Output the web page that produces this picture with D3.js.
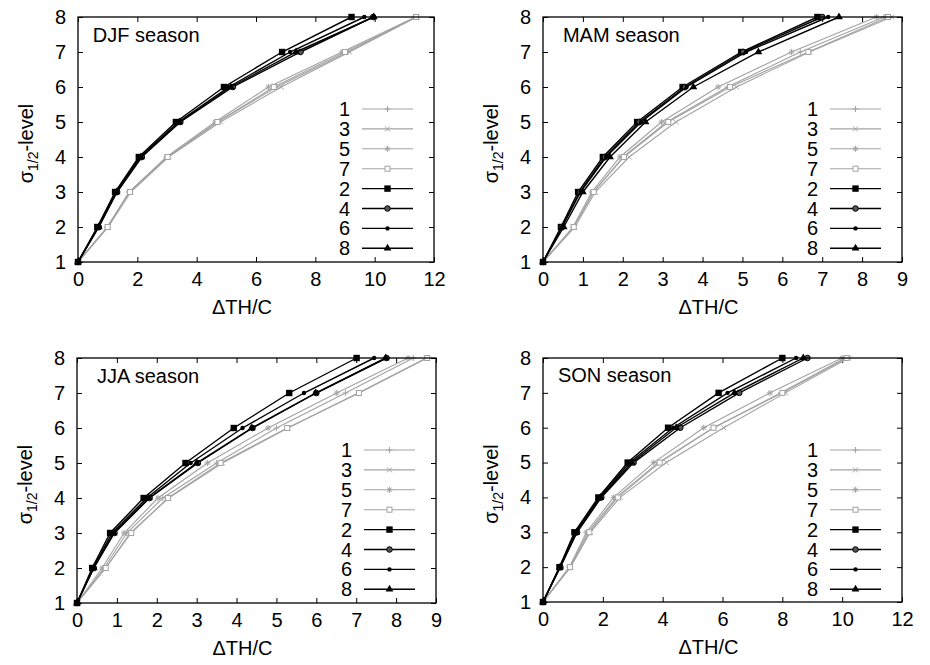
<!DOCTYPE html>
<html>
<head>
<meta charset="utf-8">
<script src="https://cdn.jsdelivr.net/npm/d3@7"></script>
<style>
  body { margin: 0; background: #fff; }
  svg { font-family: "Liberation Sans", Arial, sans-serif; }
</style>
</head>
<body>
<svg id="chart" width="930" height="665"></svg>
<script>
const levels = [1, 2, 3, 4, 5, 6, 7, 8];
const seriesNames = ['1', '3', '5', '7', '2', '4', '6', '8'];
const seasons = ['DJF', 'MAM', 'JJA', 'SON'];
const xMaxes = [12, 9, 9, 12];
const yTicks = [1, 2, 3, 4, 5, 6, 7, 8];

// ΔTH/C at each level, rows follow seriesNames
const djf = [
  [0, 1.0, 1.72, 3.0, 4.7, 6.7, 9.1, 11.4],
  [0, 1.02, 1.78, 3.05, 4.8, 6.85, 9.15, 11.42],
  [0, 0.98, 1.73, 2.98, 4.62, 6.42, 8.9, 11.38],
  [0, 1.0, 1.75, 3.02, 4.7, 6.6, 9.0, 11.4],
  [0, 0.65, 1.25, 2.05, 3.3, 4.92, 6.88, 9.22],
  [0, 0.7, 1.32, 2.15, 3.45, 5.22, 7.5, 9.95],
  [0, 0.68, 1.28, 2.1, 3.38, 5.08, 7.15, 9.65],
  [0, 0.7, 1.3, 2.12, 3.42, 5.15, 7.35, 9.97]
];
const mam = [
  [0, 0.77, 1.26, 2.01, 3.1, 4.62, 6.45, 8.55],
  [0, 0.8, 1.31, 2.16, 3.33, 4.85, 6.68, 8.74],
  [0, 0.75, 1.22, 1.93, 2.97, 4.39, 6.23, 8.36],
  [0, 0.77, 1.27, 2.03, 3.14, 4.69, 6.65, 8.65],
  [0, 0.45, 0.88, 1.5, 2.36, 3.5, 4.97, 6.88],
  [0, 0.47, 0.92, 1.55, 2.42, 3.56, 5.02, 7.0],
  [0, 0.48, 0.94, 1.58, 2.46, 3.6, 5.09, 7.15],
  [0, 0.52, 1.0, 1.68, 2.57, 3.77, 5.4, 7.42]
];
const jja = [
  [0, 0.68, 1.25, 2.15, 3.5, 5.0, 6.73, 8.43],
  [0, 0.72, 1.33, 2.3, 3.65, 5.29, 7.05, 8.76],
  [0, 0.63, 1.18, 2.03, 3.27, 4.79, 6.51, 8.3],
  [0, 0.72, 1.36, 2.28, 3.6, 5.27, 7.07, 8.78],
  [0, 0.38, 0.83, 1.67, 2.72, 3.93, 5.32, 7.01],
  [0, 0.42, 0.94, 1.82, 3.03, 4.4, 6.0, 7.76],
  [0, 0.4, 0.88, 1.75, 2.85, 4.15, 5.69, 7.45],
  [0, 0.42, 0.92, 1.8, 3.0, 4.38, 5.98, 7.74]
];
const son = [
  [0, 0.9, 1.5, 2.45, 3.85, 5.7, 7.95, 10.1],
  [0, 0.92, 1.58, 2.58, 4.12, 6.04, 8.1, 10.22],
  [0, 0.88, 1.45, 2.36, 3.7, 5.37, 7.59, 10.0],
  [0, 0.9, 1.55, 2.5, 3.9, 5.7, 8.0, 10.15],
  [0, 0.55, 1.05, 1.85, 2.83, 4.18, 5.87, 8.0],
  [0, 0.58, 1.14, 1.95, 3.03, 4.59, 6.56, 8.84],
  [0, 0.56, 1.08, 1.88, 2.9, 4.35, 6.17, 8.46],
  [0, 0.57, 1.12, 1.92, 2.97, 4.45, 6.4, 8.7]
];
const seasonData = [djf, mam, jja, son];

const grey = '#a3a3a3';
const fontSize = 20;

const panels = [
  { left: 78, right: 434, top: 17, bottom: 262 },
  { left: 543, right: 902, top: 17, bottom: 262 },
  { left: 77, right: 436, top: 358, bottom: 603 },
  { left: 543, right: 902, top: 358, bottom: 602 }
];

const svg = d3.select('#chart');

function isGrey(name) {
  return ['1', '3', '5', '7'].includes(name);
}

function drawMarker(g, name) {
  const c = isGrey(name) ? grey : '#000';
  if (name === '1') {
    g.append('path').attr('d', 'M-3,0H3M0,-3V3').attr('stroke', c).attr('stroke-width', 1);
  } else if (name === '3') {
    g.append('path').attr('d', 'M-2.5,-2.5L2.5,2.5M-2.5,2.5L2.5,-2.5').attr('stroke', c).attr('stroke-width', 1);
  } else if (name === '5') {
    g.append('path').attr('d', 'M-3,0H3M0,-3V3M-2.2,-2.2L2.2,2.2M-2.2,2.2L2.2,-2.2').attr('stroke', c).attr('stroke-width', 1);
  } else if (name === '7') {
    g.append('rect').attr('x', -2.5).attr('y', -2.5).attr('width', 5).attr('height', 5)
      .attr('fill', '#fff').attr('stroke', c).attr('stroke-width', 1);
  } else if (name === '2') {
    g.append('rect').attr('x', -3.2).attr('y', -3.2).attr('width', 6.4).attr('height', 6.4).attr('fill', c);
  } else if (name === '4') {
    g.append('circle').attr('r', 2.8).attr('fill', '#555').attr('stroke', c).attr('stroke-width', 1);
  } else if (name === '6') {
    g.append('circle').attr('r', 2.2).attr('fill', c);
  } else {
    g.append('path').attr('d', d3.symbol(d3.symbolTriangle, 26)()).attr('fill', c);
  }
}

seasons.forEach((season, i) => {
  const p = panels[i];
  const data = seasonData[i];

  const x = d3.scaleLinear().domain([0, xMaxes[i]]).range([p.left, p.right]);
  const y = d3.scaleLinear().domain([1, 8]).range([p.bottom, p.top]);

  const g = svg.append('g');

  const xTicks = d3.range(0, xMaxes[i] + 1, xMaxes[i] === 12 ? 2 : 1);

  // bottom axis with labels, inward ticks
  const bottom = g.append('g')
    .attr('transform', `translate(0,${p.bottom})`)
    .call(d3.axisBottom(x).tickValues(xTicks).tickSize(-5).tickPadding(10).tickFormat(d3.format('d')));
  const top = g.append('g')
    .attr('transform', `translate(0,${p.top})`)
    .call(d3.axisTop(x).tickValues(xTicks).tickSize(-5).tickFormat(''));
  const left = g.append('g')
    .attr('transform', `translate(${p.left},0)`)
    .call(d3.axisLeft(y).tickValues(yTicks).tickSize(-5).tickPadding(12).tickFormat(d3.format('d')));
  const right = g.append('g')
    .attr('transform', `translate(${p.right},0)`)
    .call(d3.axisRight(y).tickValues(yTicks).tickSize(-5).tickFormat(''));

  [bottom, top, left, right].forEach((a) => {
    a.select('.domain').remove();
    a.selectAll('line').attr('stroke', '#000').attr('stroke-width', 1);
    a.selectAll('text').attr('font-size', fontSize).attr('font-family', null).attr('fill', '#000');
  });

  // series lines, grey ones first
  const line = d3.line().x((d) => x(d[0])).y((d) => y(d[1]));
  seriesNames.forEach((name, k) => {
    const pts = data[k].map((v, j) => [v, levels[j]]);
    g.append('path')
      .attr('d', line(pts))
      .attr('fill', 'none')
      .attr('stroke', isGrey(name) ? grey : '#000')
      .attr('stroke-width', isGrey(name) ? 1.1 : 1.4);
    pts.forEach((pt) => {
      const m = g.append('g').attr('transform', `translate(${x(pt[0])},${y(pt[1])})`);
      drawMarker(m, name);
    });
  });

  // frame
  g.append('rect')
    .attr('x', p.left).attr('y', p.top)
    .attr('width', p.right - p.left).attr('height', p.bottom - p.top)
    .attr('fill', 'none').attr('stroke', '#000').attr('stroke-width', 1.3);

  // season label
  g.append('text')
    .attr('x', x(0.5)).attr('y', y(7.5) + 7)
    .attr('font-size', fontSize)
    .text(`${season} season`);

  // legend
  seriesNames.forEach((name, k) => {
    const ly = p.top + 92 + k * 19.9;
    const row = g.append('g');
    row.append('text')
      .attr('x', p.right - 84).attr('y', ly + 7)
      .attr('text-anchor', 'end')
      .attr('font-size', fontSize)
      .text(name);
    row.append('line')
      .attr('x1', p.right - 72).attr('x2', p.right - 21)
      .attr('y1', ly).attr('y2', ly)
      .attr('stroke', isGrey(name) ? grey : '#000')
      .attr('stroke-width', isGrey(name) ? 1.1 : 1.4);
    const m = row.append('g').attr('transform', `translate(${p.right - 46.5},${ly})`);
    drawMarker(m, name);
  });

  // axis titles
  g.append('text')
    .attr('x', (p.left + p.right) / 2 - 14).attr('y', p.bottom + 52)
    .attr('text-anchor', 'middle')
    .attr('font-size', fontSize)
    .text('ΔTH/C');

  const yl = g.append('text')
    .attr('transform', `translate(${p.left - 45},${(p.top + p.bottom) / 2 + 4}) rotate(-90)`)
    .attr('text-anchor', 'middle')
    .attr('font-size', fontSize);
  yl.append('tspan').text('σ');
  yl.append('tspan').attr('font-size', 14).attr('dy', 5).text('1/2');
  yl.append('tspan').attr('dy', -5).text('-level');
});
</script>
</body>
</html>
